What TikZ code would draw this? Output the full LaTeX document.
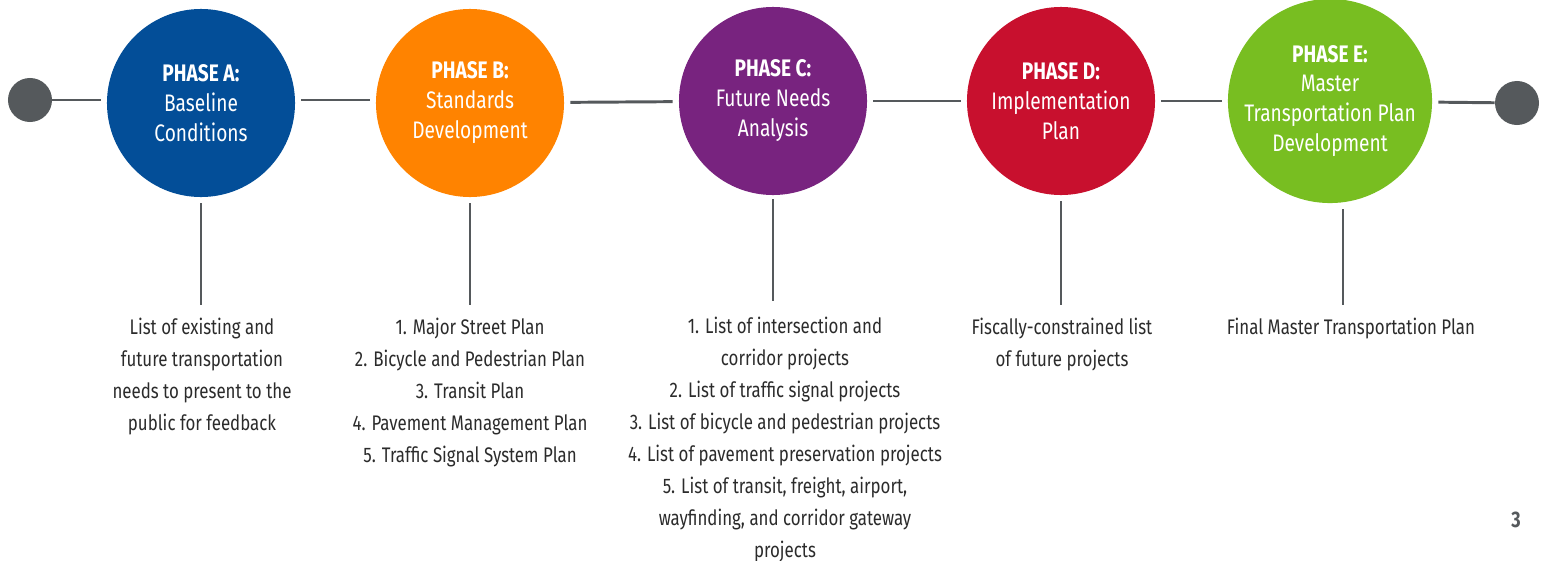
\documentclass[tikz,border=0pt]{standalone}
\usepackage{fontspec}
\setmainfont{Fira Sans}[FakeStretch=0.8]
\definecolor{faseA}{HTML}{034E98}
\definecolor{faseB}{HTML}{FF8300}
\definecolor{faseC}{HTML}{78237F}
\definecolor{faseD}{HTML}{C8102E}
\definecolor{faseE}{HTML}{78BE21}
\definecolor{gris}{HTML}{55595C}
\definecolor{textogris}{HTML}{2B2B2B}
\begin{document}
\begin{tikzpicture}[x=0.025cm,y=-0.025cm,
    fase/.style={circle,minimum size=4.7cm,inner sep=0pt,text=white,align=center,
      font=\fontsize{17}{21.3}\selectfont},
    punto/.style={circle,fill=gris,minimum size=1.1cm,inner sep=0pt},
    texto/.style={anchor=north,align=center,inner sep=0pt,text=textogris,
      font=\fontsize{15}{22.7}\selectfont},
    linea/.style={draw=gris,line width=2.1pt}]

    \useasboundingbox (0,0) rectangle (1548,560);

    % Puntos extremos
    \node[punto] (ini) at (30,100) {};
    \node[punto] (fin) at (1517,103) {};

    % Fases
    \node[fase,fill=faseA] (A) at (201,103) {\textbf{PHASE A:}\\Baseline\\Conditions};
    \node[fase,fill=faseB] (B) at (470,103) {\textbf{PHASE B:}\\Standards\\Development};
    \node[fase,fill=faseC] (C) at (773,101) {\textbf{PHASE C:}\\Future Needs\\Analysis};
    \node[fase,fill=faseD] (D) at (1061,101) {\textbf{PHASE D:}\\Implementation\\Plan};
    \node[fase,fill=faseE] (E) at (1330,101) {\textbf{PHASE E:}\\Master\\Transportation Plan\\Development};

    % Linea de tiempo
    \draw[linea,shorten >=0.15cm] (ini) -- (A.west |- ini);
    \draw[linea,shorten <=0.15cm,shorten >=0.15cm] (A.east |- ini) -- (B.west |- ini);
    \draw[linea,shorten <=0.15cm,shorten >=0.15cm] (B) -- (C);
    \draw[linea,shorten <=0.15cm,shorten >=0.15cm] (C) -- (D);
    \draw[linea,shorten <=0.15cm,shorten >=0.15cm] (D) -- (E);
    \draw[linea,shorten <=0.15cm] (E) -- (fin);

    % Resultados de cada fase
    \node[texto] (tA) at (202,318) {List of existing and\\future transportation\\needs to present to the\\public for feedback};
    \node[texto] (tB) at (470,318) {1. Major Street Plan\\2. Bicycle and Pedestrian Plan\\3. Transit Plan\\4. Pavement Management Plan\\5. Traffic Signal System Plan};
    \node[texto] (tC) at (785,317) {1. List of intersection and\\corridor projects\\2. List of traffic signal projects\\3. List of bicycle and pedestrian projects\\4. List of pavement preservation projects\\5. List of transit, freight, airport,\\wayfinding, and corridor gateway\\projects};
    \node[texto] (tD) at (1062,318) {Fiscally-constrained list\\of future projects};
    \node[texto] (tE) at (1351,318) {Final Master Transportation Plan};

    % Conectores verticales
    \draw[linea,shorten <=0.15cm,shorten >=0.32cm] (A) -- (A |- tA.north);
    \draw[linea,shorten <=0.15cm,shorten >=0.32cm] (B) -- (B |- tB.north);
    \draw[linea,shorten <=0.1cm,shorten >=0.4cm] (C) -- (C |- tC.north);
    \draw[linea,shorten <=0.15cm,shorten >=0.32cm] (D) -- (D |- tD.north);
    \draw[linea,shorten <=0.15cm,shorten >=0.32cm] ([xshift=13*0.025cm]E.south) -- ([xshift=13*0.025cm]E.south |- tE.north);

    % Numero de pagina
    \node[text=gris,font=\bfseries\fontsize{16}{18}\selectfont] (pag) at (1516,520) {3};

\end{tikzpicture}
\end{document}
